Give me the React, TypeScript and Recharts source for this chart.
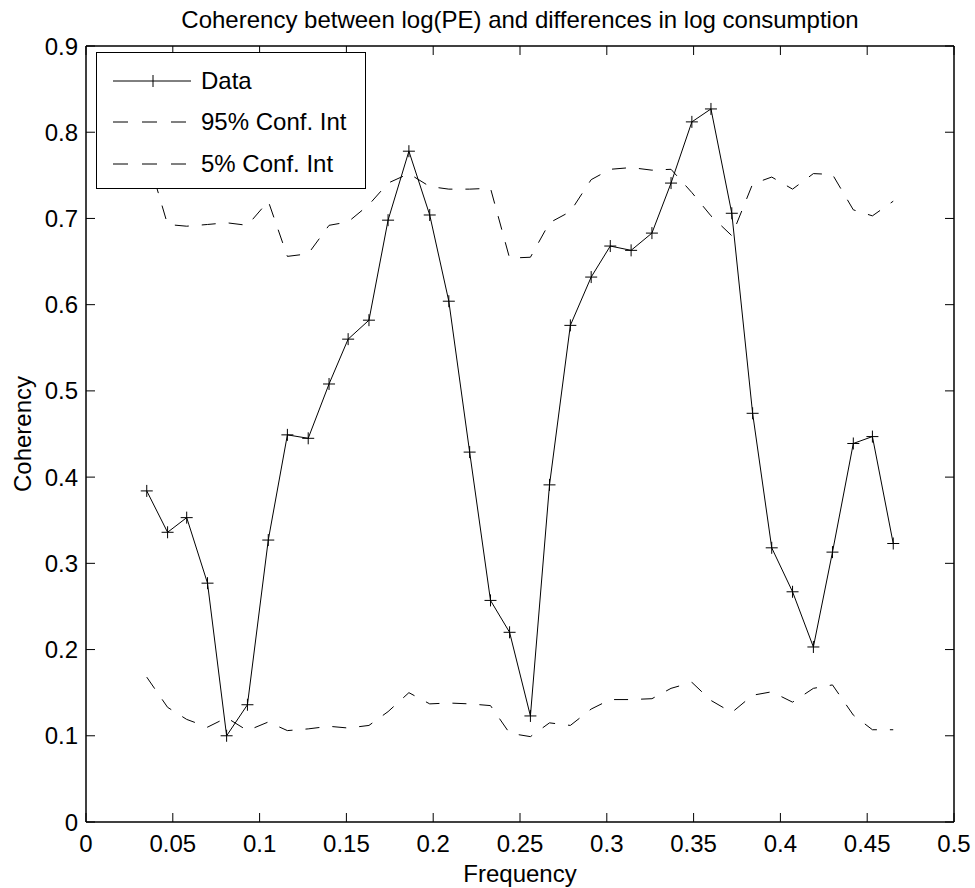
import { LineChart, Line, XAxis, YAxis, ReferenceLine, Legend } from 'recharts'

// frequency grid of the spectral estimate
const frequency = [
  0.035, 0.047, 0.058, 0.07, 0.081, 0.093, 0.105, 0.116, 0.128, 0.14,
  0.151, 0.163, 0.174, 0.186, 0.198, 0.209, 0.221, 0.233, 0.244, 0.256,
  0.267, 0.279, 0.291, 0.302, 0.314, 0.326, 0.337, 0.349, 0.36, 0.372,
  0.384, 0.395, 0.407, 0.419, 0.43, 0.442, 0.453, 0.465,
]

const coherency = [
  0.384, 0.336, 0.353, 0.277, 0.1, 0.136, 0.327, 0.449, 0.445, 0.508,
  0.56, 0.582, 0.698, 0.778, 0.704, 0.604, 0.429, 0.257, 0.22, 0.123,
  0.391, 0.576, 0.632, 0.668, 0.663, 0.683, 0.741, 0.812, 0.827, 0.706,
  0.474, 0.318, 0.267, 0.203, 0.313, 0.439, 0.447, 0.323,
]

const upper95 = [
  0.775, 0.693, 0.691, 0.693, 0.695, 0.692, 0.72, 0.656, 0.659, 0.692,
  0.696, 0.716, 0.741, 0.752, 0.737, 0.734, 0.734, 0.735, 0.654, 0.655,
  0.695, 0.708, 0.745, 0.757, 0.759, 0.756, 0.757, 0.73, 0.703, 0.68,
  0.74, 0.748, 0.734, 0.752, 0.751, 0.71, 0.703, 0.72,
]

const lower5 = [
  0.168, 0.133, 0.119, 0.11, 0.121, 0.106, 0.116, 0.106, 0.108, 0.111,
  0.109, 0.112, 0.128, 0.15, 0.137, 0.138, 0.137, 0.135, 0.103, 0.099,
  0.115, 0.112, 0.131, 0.142, 0.142, 0.143, 0.155, 0.162, 0.141, 0.127,
  0.147, 0.151, 0.139, 0.155, 0.159, 0.124, 0.107, 0.107,
]

const xTicks = [0, 0.05, 0.1, 0.15, 0.2, 0.25, 0.3, 0.35, 0.4, 0.45, 0.5]
const yTicks = [0, 0.1, 0.2, 0.3, 0.4, 0.5, 0.6, 0.7, 0.8, 0.9]

const seriesNames = ['Data', '95% Conf. Int', '5% Conf. Int']

const rows = frequency.map((f, i) => ({
  f,
  data: coherency[i],
  hi: upper95[i],
  lo: lower5[i],
}))

const FONT = '"Liberation Sans", Arial, Helvetica, sans-serif'
const FS = 24
const PLOT = { left: 86, right: 954, top: 46, bottom: 822 }
const DASH = '14 13'

function fmt(v: number) {
  return String(+v.toFixed(2))
}

function XTick({ x, y, payload }: any) {
  return (
    <g>
      <line x1={x} x2={x} y1={PLOT.bottom} y2={PLOT.bottom - 9} stroke="#000" />
      <line x1={x} x2={x} y1={PLOT.top} y2={PLOT.top + 9} stroke="#000" />
      <text x={x} y={y + 30} textAnchor="middle" fontSize={FS} fontFamily={FONT} fill="#000">
        {fmt(payload.value)}
      </text>
    </g>
  )
}

function YTick({ x, y, payload }: any) {
  return (
    <g>
      <line x1={PLOT.left} x2={PLOT.left + 9} y1={y} y2={y} stroke="#000" />
      <line x1={PLOT.right} x2={PLOT.right - 9} y1={y} y2={y} stroke="#000" />
      <text x={x - 8} y={y + 8.5} textAnchor="end" fontSize={FS} fontFamily={FONT} fill="#000">
        {fmt(payload.value)}
      </text>
    </g>
  )
}

function PlusDot({ cx, cy }: any) {
  if (cx == null || cy == null) return null
  return (
    <path d={`M${cx - 6},${cy}H${cx + 6}M${cx},${cy - 6}V${cy + 6}`} stroke="#000" strokeWidth={1} fill="none" />
  )
}

const legendRowTop = [29, 70, 112]

function LegendBox() {
  return (
    <div
      style={{
        width: 268,
        height: 135,
        border: '1.5px solid #000',
        background: '#fff',
        fontFamily: FONT,
        fontSize: FS,
        position: 'relative',
      }}
    >
      {seriesNames.map((name, i) => (
        <div
          key={name}
          style={{
            position: 'absolute',
            left: 0,
            top: legendRowTop[i] - 16,
            height: 30,
            display: 'flex',
            alignItems: 'center',
            whiteSpace: 'nowrap',
          }}
        >
          <svg width={100} height={30} style={{ display: 'block' }}>
            <line
              x1={16}
              x2={94}
              y1={15}
              y2={15}
              stroke="#000"
              strokeWidth={1}
              strokeDasharray={i === 0 ? undefined : '15 14'}
            />
            {i === 0 && <path d="M56,9V21" stroke="#000" />}
          </svg>
          <span style={{ marginLeft: 4 }}>{name}</span>
        </div>
      ))}
    </div>
  )
}

export default function App() {
  return (
    <div style={{ position: 'absolute', left: 0, top: 0, width: 975, height: 888, background: '#fff' }}>
      <LineChart
        width={975}
        height={888}
        data={rows}
        margin={{ top: 46, right: 21, bottom: 4, left: 26 }}
      >
        <XAxis
          dataKey="f"
          type="number"
          domain={[0, 0.5]}
          ticks={xTicks}
          interval={0}
          tickLine={false}
          tickSize={0}
          tickMargin={0}
          height={62}
          axisLine={{ stroke: '#000', strokeWidth: 1.5 }}
          tick={<XTick />}
          label={{
            value: 'Frequency',
            content: ({ viewBox }: any) => (
              <text
                x={viewBox.x + viewBox.width / 2}
                y={viewBox.y + 60}
                textAnchor="middle"
                fontSize={FS}
                fontFamily={FONT}
                fill="#000"
              >
                Frequency
              </text>
            ),
          }}
        />
        <YAxis
          type="number"
          domain={[0, 0.9]}
          ticks={yTicks}
          interval={0}
          width={60}
          tickLine={false}
          tickSize={0}
          tickMargin={0}
          axisLine={{ stroke: '#000', strokeWidth: 1.5 }}
          tick={<YTick />}
          label={{
            value: 'Coherency',
            content: ({ viewBox }: any) => {
              const cy = viewBox.y + viewBox.height / 2
              return (
                <text
                  x={22}
                  y={cy}
                  transform={`rotate(-90, 22, ${cy})`}
                  textAnchor="middle"
                  dominantBaseline="central"
                  fontSize={FS}
                  fontFamily={FONT}
                  fill="#000"
                >
                  Coherency
                </text>
              )
            },
          }}
        />
        <ReferenceLine
          y={0.9}
          stroke="#000"
          strokeWidth={1.5}
          label={{
            value: 'Coherency between log(PE) and differences in log consumption',
            content: ({ viewBox }: any) => (
              <text
                x={viewBox.x + viewBox.width / 2}
                y={viewBox.y - 18}
                textAnchor="middle"
                fontSize={FS}
                fontFamily={FONT}
                fill="#000"
              >
                Coherency between log(PE) and differences in log consumption
              </text>
            ),
          }}
        />
        <ReferenceLine x={0.5} stroke="#000" strokeWidth={1.5} />
        <Line
          dataKey="hi"
          name={seriesNames[1]}
          stroke="#000"
          strokeWidth={1}
          strokeDasharray={DASH}
          dot={false}
          activeDot={false}
          isAnimationActive={false}
        />
        <Line
          dataKey="lo"
          name={seriesNames[2]}
          stroke="#000"
          strokeWidth={1}
          strokeDasharray={DASH}
          dot={false}
          activeDot={false}
          isAnimationActive={false}
        />
        <Line
          dataKey="data"
          name={seriesNames[0]}
          stroke="#000"
          strokeWidth={1}
          dot={<PlusDot />}
          activeDot={false}
          isAnimationActive={false}
        />
        <Legend
          layout="horizontal"
          verticalAlign="middle"
          align="center"
          content={() => <LegendBox />}
          wrapperStyle={{ left: 96, top: 52, width: 271, height: 138, margin: 0 }}
        />
      </LineChart>
    </div>
  )
}
